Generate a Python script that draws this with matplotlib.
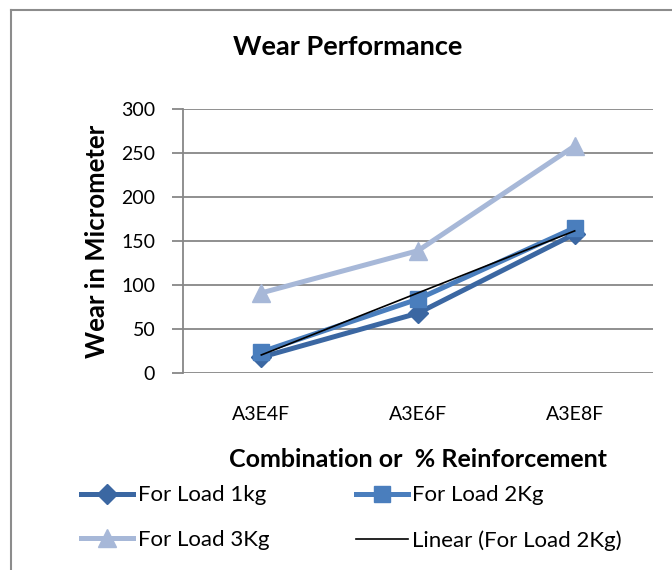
import numpy as np
import matplotlib.pyplot as plt
from matplotlib.lines import Line2D

# Datos
combinaciones = ["A3E4F", "A3E6F", "A3E8F"]
carga_1kg = [18, 68, 158]
carga_2kg = [24, 84, 165]
carga_3kg = [91, 139, 258]

plt.rcParams['font.family'] = ['Lato', 'DejaVu Sans']

W, H = 672, 570
fig = plt.figure(figsize=(W / 100, H / 100), dpi=100)
ax = fig.add_axes([183 / W, 1 - 373 / H, (653 - 183) / W, (373 - 109) / H])

x = np.arange(1, len(combinaciones) + 1)

l1, = ax.plot(x, carga_1kg, color='#3B67A2', lw=3.6, marker='D', ms=10, label='For Load 1kg', zorder=3)
l2, = ax.plot(x, carga_2kg, color='#4A7EBD', lw=3.6, marker='s', ms=11, label='For Load 2Kg', zorder=4)
l3, = ax.plot(x, carga_3kg, color='#A7B8D8', lw=3.6, marker='^', ms=13, label='For Load 3Kg', zorder=2)

# Linea de tendencia lineal (For Load 2Kg)
m, b = np.polyfit(x, carga_2kg, 1)
l4, = ax.plot(x, m * x + b, color='black', lw=1.2, label='Linear (For Load 2Kg)', zorder=5)

ax.set_xlim(0.5, 3.5)
ax.set_ylim(0, 300)
ax.set_yticks(range(0, 301, 50))
ax.set_xticks(x)
ax.set_xticklabels(combinaciones)
ax.grid(axis='y', color='#878787', lw=1.3)
ax.set_axisbelow(True)
for s in ['top', 'right', 'bottom']:
    ax.spines[s].set_visible(False)
ax.spines['left'].set_color('#878787')
ax.spines['left'].set_linewidth(1.3)
ax.tick_params(axis='y', length=8, color='#878787', width=1.3, labelsize=14, pad=12)
ax.tick_params(axis='x', length=0, labelsize=14, pad=24)

ax.set_ylabel('Wear in Micrometer', fontsize=18.5, fontweight='bold', labelpad=9)
ax.set_xlabel('Combination or  % Reinforcement', fontsize=18, fontweight='bold', labelpad=18)

fig.text(348 / W, 1 - 47 / H, 'Wear Performance', fontsize=19.5, fontweight='bold',
         ha='center', va='center')

# Borde del area del grafico
fig.add_artist(Line2D([11 / W, 11 / W], [0, 1 - 10 / H], color='#8C8C8C', lw=1.5,
                      transform=fig.transFigure))
fig.add_artist(Line2D([11 / W, 1], [1 - 10 / H, 1 - 10 / H], color='#8C8C8C', lw=1.5,
                      transform=fig.transFigure))

# Leyenda en dos columnas, ordenada por filas como en el original
fig.legend([l1, l3, l2, l4], [l1.get_label(), l3.get_label(), l2.get_label(), l4.get_label()],
           ncol=2, loc='center left', bbox_to_anchor=(61 / W, 1 - 518 / H),
           frameon=False, fontsize=16, handlelength=2.35, handletextpad=0.2,
           columnspacing=3.9, labelspacing=1.1)

fig.savefig('out.png', dpi=100)
